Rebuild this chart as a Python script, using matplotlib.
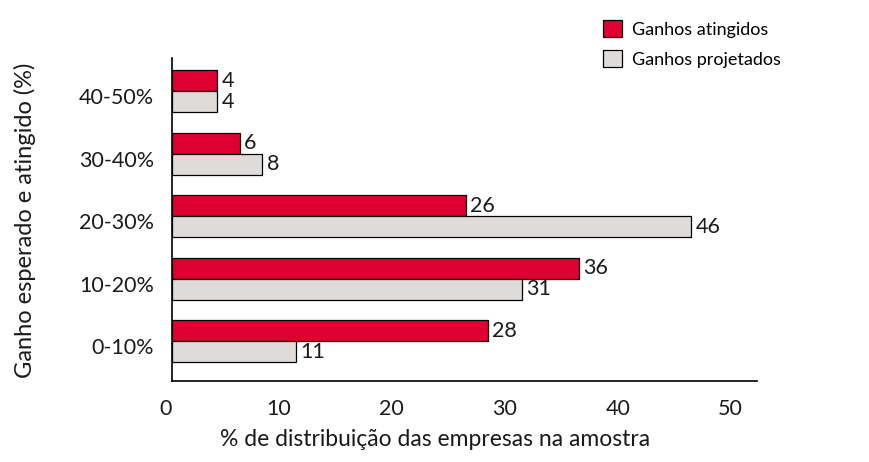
import matplotlib
matplotlib.use("Agg")
import matplotlib.pyplot as plt
import matplotlib.transforms as mtransforms
import numpy as np

categories = ["0-10%", "10-20%", "20-30%", "30-40%", "40-50%"]
atingidos = [28, 36, 26, 6, 4]
projetados = [11, 31, 46, 8, 4]
series_names = ["Ganhos atingidos", "Ganhos projetados"]
xticks = [0, 10, 20, 30, 40, 50]

RED = "#DE0030"
GRAY = "#DEDBD8"
TXT = "#1a1a1a"

plt.rcParams['font.family'] = ['Lato', 'DejaVu Sans']

W, H = 869, 462
fig = plt.figure(figsize=(W / 100, H / 100), dpi=100)
ax = fig.add_axes([172 / W, 1 - 381 / H, (757 - 172) / W, (381 - 58) / H])

y = np.arange(len(categories))
h = 0.337
b1 = ax.barh(y + h / 2, atingidos, height=h, color=RED, edgecolor="black", linewidth=0.9, label=series_names[0])
b2 = ax.barh(y - h / 2, projetados, height=h, color=GRAY, edgecolor="black", linewidth=0.9, label=series_names[1])

for bars, vals in ((b1, atingidos), (b2, projetados)):
    for rect, v in zip(bars, vals):
        ax.annotate(str(v), (rect.get_width(), rect.get_y() + rect.get_height() / 2),
                    xytext=(3, 0), textcoords="offset points", va="center", ha="left",
                    fontsize=15.5, color=TXT)

ax.set_xlim(0, 51.8)
ax.set_ylim(-0.64, 4.535)
ax.set_yticks(y)
ax.set_yticklabels(categories, fontsize=15.5, color=TXT)
ax.set_xticks(xticks)
ax.set_xticklabels([str(t) for t in xticks], fontsize=15.5, color=TXT)
ax.tick_params(axis="y", length=0, pad=13)
ax.tick_params(axis="x", length=0, pad=13)
dy = mtransforms.ScaledTranslation(0, -5 / 100, fig.dpi_scale_trans)
for lab in ax.get_yticklabels():
    lab.set_transform(lab.get_transform() + dy)
dx = mtransforms.ScaledTranslation(-6 / 100, 0, fig.dpi_scale_trans)
for lab in ax.get_xticklabels():
    lab.set_transform(lab.get_transform() + dx)
for s in ("top", "right"):
    ax.spines[s].set_visible(False)
for s in ("left", "bottom"):
    ax.spines[s].set_linewidth(1.2)

fig.text(25 / W, 1 - 220 / H, "Ganho esperado e atingido (%)", rotation=90,
         ha="center", va="center", fontsize=17, color=TXT)
fig.text(435 / W, 1 - 440 / H, "% de distribuição das empresas na amostra",
         ha="center", va="center", fontsize=16.5, color=TXT)

leg = fig.legend(handles=[b1, b2], loc="upper left", bbox_to_anchor=(587 / W, 1 - 4 / H),
                 frameon=False, fontsize=13, handlelength=1.05, handleheight=1.05,
                 handletextpad=0.55, labelspacing=0.7)

fig.savefig("out.png", dpi=100)
